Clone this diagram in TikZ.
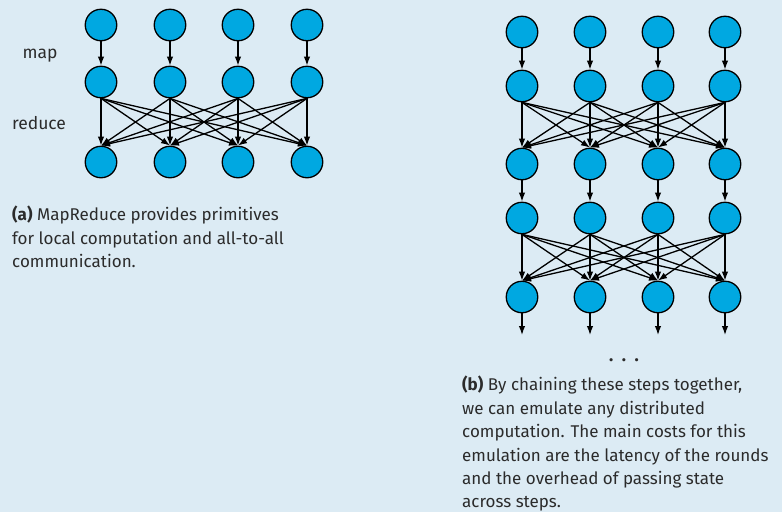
\documentclass[tikz,border=0pt]{standalone}
\usepackage{fontspec}
\setmainfont{Fira Sans}
\usetikzlibrary{arrows.meta}

\definecolor{panel}{HTML}{DCEBF4}
\definecolor{unitblue}{HTML}{00A8E1}
\definecolor{ink}{HTML}{2B2B2B}

\tikzset{
  unit/.style={circle,draw=black,fill=unitblue,line width=1.3pt,
    minimum size=31.5pt,inner sep=0pt},
  flow/.style={draw,line width=1.3pt,-{Latex[length=9pt,width=6.5pt]}},
  caption/.style={anchor=north west,align=left,inner sep=0pt,text=ink,
    font=\fontsize{17}{23.4}\selectfont},
  phase/.style={text=ink,font=\fontsize{17.5}{22}\selectfont}
}

\begin{document}
\begin{tikzpicture}[x=1pt,y=-1pt]
\path[fill=panel] (0,0) rectangle (782,512);
\useasboundingbox (0,0) rectangle (782,512);

\begin{scope}
\foreach \c/\x in {1/101,2/170,3/238,4/307} {
  \node[unit] (la\c) at (\x,25)  {};
  \node[unit] (lb\c) at (\x,82)  {};
  \node[unit] (lc\c) at (\x,162) {};
}
\foreach \c in {1,...,4} {
  \path[flow] (la\c) -- (lb\c);
  \foreach \d in {1,...,4}
    \path[flow] (lb\c.south) -- (lc\d.north);
}

\node[phase] (map)    at (40,56)  {map};
\node[phase] (reduce) at (39,123) {reduce};

\node[caption] (capa) at (12,206)
  {\textbf{(a)} MapReduce provides primitives\\
   for local computation and all-to-all\\
   communication.};
\end{scope}

\begin{scope}
\foreach \c/\x in {1/522,2/590,3/658,4/725} {
  \node[unit] (ra\c) at (\x,32)  {};
  \node[unit] (rb\c) at (\x,86)  {};
  \node[unit] (rc\c) at (\x,164) {};
  \node[unit] (rd\c) at (\x,218) {};
  \node[unit] (re\c) at (\x,297) {};
  \coordinate (rout\c) at (\x,335);
}
\foreach \c in {1,...,4} {
  \path[flow] (ra\c) -- (rb\c);
  \path[flow] (rc\c) -- (rd\c);
  \path[flow] (re\c) -- (rout\c);
  \foreach \d in {1,...,4} {
    \path[flow] (rb\c.south) -- (rc\d.north);
    \path[flow] (rd\c.south) -- (re\d.north);
  }
}

\node[phase] (more) at (624,360) {\textbf{.\hspace{8.5pt}.\hspace{8.5pt}.}};

\node[caption] (capb) at (462,376)
  {\textbf{(b)} By chaining these steps together,\\
   we can emulate any distributed\\
   computation. The main costs for this\\
   emulation are the latency of the rounds\\
   and the overhead of passing state\\
   across steps.};
\end{scope}

\end{tikzpicture}
\end{document}
